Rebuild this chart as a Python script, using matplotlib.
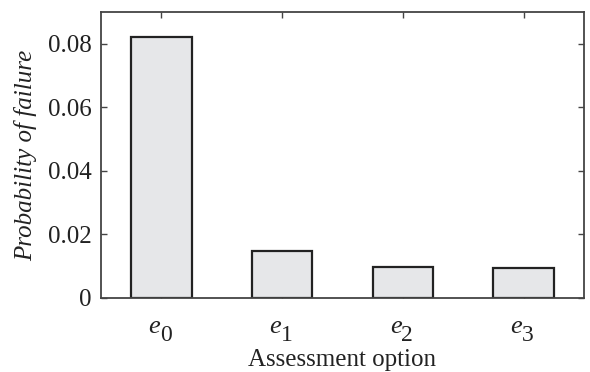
import matplotlib
matplotlib.use("Agg")
import matplotlib.pyplot as plt

categories = ["0", "1", "2", "3"]   # subscripts of e
values = [0.0820, 0.0147, 0.0098, 0.0093]
yticks = [0, 0.02, 0.04, 0.06, 0.08]
ytick_labels = ["0", "0.02", "0.04", "0.06", "0.08"]

plt.rcParams['font.family'] = ['Liberation Serif']

fig = plt.figure(figsize=(5.9, 3.72), dpi=100)
ax = fig.add_axes([101/590, 1 - 298/372, (584-101)/590, (298-12)/372])

x = list(range(len(categories)))
ax.bar(x, values, width=0.5, color='#e6e7e9', edgecolor='#222222', linewidth=1.6, zorder=2)

ax.set_xlim(-0.5, 3.5)
ax.set_ylim(0, 0.09)
ax.set_xticks(x)
ax.set_xticklabels([""] * len(x))
for xi, c in zip(x, categories):
    ax.annotate("e", xy=(xi, 0), xycoords=('data', 'axes fraction'),
                xytext=(-1.0, -25.2), textcoords='offset points',
                ha='right', va='baseline', fontsize=19, style='italic', color='#222222')
    ax.annotate(c, xy=(xi, 0), xycoords=('data', 'axes fraction'),
                xytext=(-1.0, -30.7), textcoords='offset points',
                ha='left', va='baseline', fontsize=17, color='#222222')
ax.set_yticks(yticks)
ax.set_yticklabels(ytick_labels, fontsize=18)
ax.tick_params(direction='in', top=True, right=True, length=4, width=1, color='#444444', labelcolor='#222222')
ax.tick_params(axis='y', pad=7)
for s in ax.spines.values():
    s.set_color('#444444')
    s.set_linewidth(1.3)

ax.annotate("Assessment option", xy=(0.5, 0), xycoords='axes fraction',
            xytext=(0, -49), textcoords='offset points',
            ha='center', va='baseline', fontsize=18, color='#222222')
ax.set_ylabel("Probability of failure", fontsize=18, style='italic', color='#222222')
ax.yaxis.set_label_coords(-0.133, 0.5)

fig.savefig("out.png", dpi=100)
